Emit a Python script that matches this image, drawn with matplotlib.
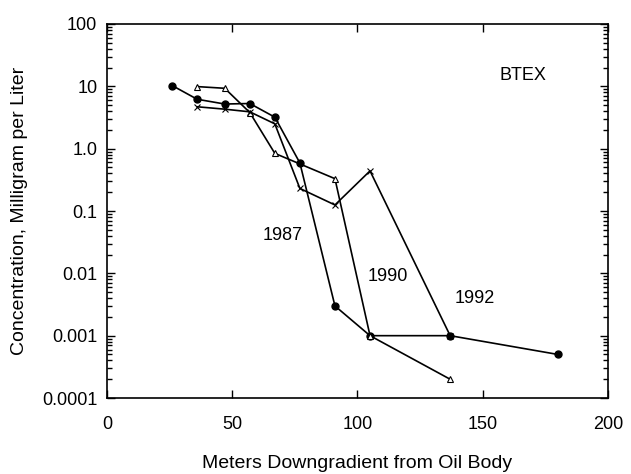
import numpy as np
import matplotlib
matplotlib.use("Agg")
import matplotlib.pyplot as plt
from matplotlib.ticker import FixedLocator, MultipleLocator, LogLocator, NullFormatter

plt.rcParams['font.family'] = ['Liberation Sans', 'DejaVu Sans']

# 1987 (filled circles)
x_1987 = [26, 36, 47, 57, 67, 77, 91, 105, 137, 180]
y_1987 = [10.3, 6.2, 5.2, 5.3, 3.2, 0.59, 0.003, 0.001, 0.001, 0.0005]

# 1990 (open triangles)
x_1990 = [36, 47, 57, 67, 91, 105, 137]
y_1990 = [9.9, 9.3, 3.8, 0.84, 0.33, 0.001, 0.0002]

# 1992 (crosses)
x_1992 = [36, 47, 57, 67, 77, 91, 105, 137]
y_1992 = [4.7, 4.3, 3.9, 2.5, 0.23, 0.125, 0.44, 0.001]

ytick_vals = [0.0001, 0.001, 0.01, 0.1, 1, 10, 100]
ytick_labels = ['0.0001', '0.001', '0.01', '0.1', '1.0', '10', '100']

fig = plt.figure(figsize=(6.31, 4.74), dpi=100)
ax = fig.add_axes([0.1696, 0.1603, 0.7939, 0.7891])

ax.plot(x_1987, y_1987, color='black', lw=1.2, marker='o', ms=5, mfc='black', mec='black')
ax.plot(x_1990, y_1990, color='black', lw=1.2, marker='^', ms=5, mfc='white', mec='black', mew=0.8)
ax.plot(x_1992, y_1992, color='black', lw=1.2, marker='x', ms=5, mec='black', mew=0.8)

ax.set_yscale('log')
ax.set_xlim(0, 200)
ax.set_ylim(0.0001, 100)

ax.yaxis.set_major_locator(FixedLocator(ytick_vals))
ax.set_yticklabels(ytick_labels)
ax.yaxis.set_minor_locator(LogLocator(base=10, subs=np.arange(2, 10)))
ax.yaxis.set_minor_formatter(NullFormatter())
ax.xaxis.set_major_locator(MultipleLocator(50))

ax.tick_params(which='both', direction='in', top=True, right=True, labelsize=13, width=1)
ax.tick_params(which='major', length=6)
ax.tick_params(axis='y', which='major', pad=7)
ax.tick_params(axis='x', which='major', pad=13)
ax.tick_params(which='minor', length=3.5)
for s in ax.spines.values():
    s.set_linewidth(1.2)

ax.text(166, 15, 'BTEX', fontsize=13, ha='center', va='center')
ax.text(70, 0.041, '1987', fontsize=13, ha='center', va='center')
ax.text(112, 0.0088, '1990', fontsize=13, ha='center', va='center')
ax.text(147, 0.004, '1992', fontsize=13, ha='center', va='center')

ax.set_xlabel('Meters Downgradient from Oil Body', fontsize=14)
ax.set_ylabel('Concentration, Milligram per Liter', fontsize=14)
ax.xaxis.set_label_coords(0.5, -0.152)
ax.yaxis.set_label_coords(-0.158, 0.5)

fig.savefig('out.png', dpi=100)
